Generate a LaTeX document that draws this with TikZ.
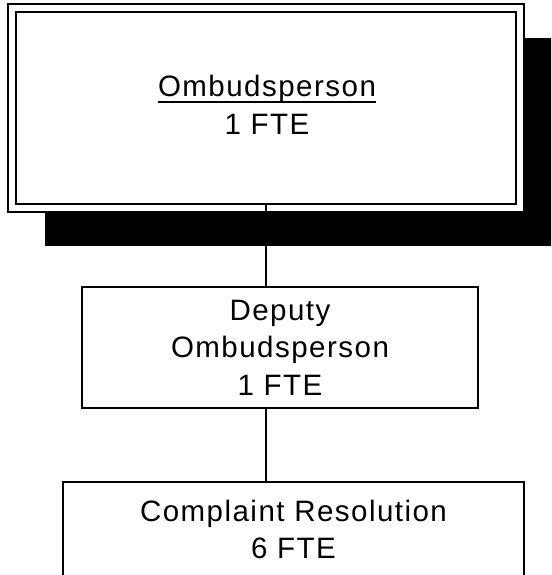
\documentclass[tikz,border=0pt]{standalone}
\usepackage{fontspec}
\setmainfont{Liberation Sans}[LetterSpace=5]
\newcommand\myul[1]{\setbox0=\hbox{#1}\rlap{\rule[-5.8pt]{\wd0}{1.6pt}}\box0}
\tikzset{
  orgbox/.style={draw, line width=2pt, fill=white, rectangle, inner sep=0pt,
    align=center, font=\fontsize{29.5}{37.5}\selectfont},
  conn/.style={draw, line width=2pt},
}
\begin{document}
\begin{tikzpicture}[x=1pt,y=-1pt]
\useasboundingbox (0,0) rectangle (551,575);
\clip (0,0) rectangle (551,575);
% shadow of the top box
\node[fill=black, draw=none, inner sep=0pt, minimum width=516pt, minimum height=208pt] (shadow) at (303,142) {};
% outer frame of the top box
\node[draw, line width=1.5pt, fill=white, inner sep=0pt, minimum width=516pt, minimum height=208pt] (ombout) at (266,108) {};
% top box
\node[orgbox, minimum width=500pt, minimum height=192pt] (omb) at (266,108) {};
\node[align=center, inner sep=0pt, font=\fontsize{29.5}{37.5}\selectfont] (ombtext) at (267,105) {\myul{Ombudsperson}\\1 FTE};
% deputy
\node[orgbox, minimum width=396pt, minimum height=121pt] (dep) at (280,347.5) {Deputy\\Ombudsperson\\1 FTE};
% complaint resolution
\node[orgbox, minimum width=461pt, minimum height=95pt, anchor=north] (cr) at (293.5,481) {Complaint Resolution\\6 FTE};
% connectors
\draw[conn] (omb.south) -- (omb.south |- dep.north);
\draw[conn] (omb.south |- dep.south) -- (omb.south |- cr.north);
\end{tikzpicture}
\end{document}
